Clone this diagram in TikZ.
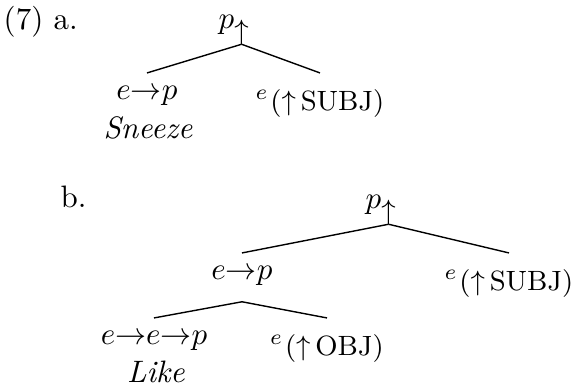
\documentclass[tikz,border=0pt]{standalone}
\newcommand{\flab}[2]{$\scriptstyle #1$\kern1pt\raisebox{-3.3pt}{\small$({\uparrow}\,\mathrm{#2})$}}
\newcommand{\rlab}[1]{$#1$\raisebox{-3.3pt}{\small$\uparrow$}}
\begin{document}
\begin{tikzpicture}[x=0.3226pt, y=-0.3226pt, every path/.style={line width=0.45pt}, tnode/.style={anchor=base, inner sep=0pt, text height=8.5pt, text depth=3.6pt}, rnode/.style={anchor=base west, inner sep=0pt, text depth=4.7pt}, word/.style={anchor=base, inner sep=0pt}]
			\useasboundingbox (0,0) rectangle (581,390);
			% (7a)
			\node[word, anchor=base west] (num) at (3,30) {(7)};
			\node[word, anchor=base west] (la) at (53,30) {a.};
			\node[rnode] (pa) at (218,29) {\rlab{p}};
			\node[tnode] (fa) at (147,100) {$e{\to}p$};
			\node[tnode] (sa) at (320,100) {\flab{e}{SUBJ}};
			\node[word] (sneeze) at (148,139) {\textit{Sneeze}};
			\draw ([xshift=-2.5pt]pa.south east) -- (fa.north);
			\draw ([xshift=-2.5pt]pa.south east) -- (sa.north);
			% (7b)
			\node[word, anchor=base west] (lb) at (60,208) {b.};
			\node[rnode] (pb) at (365,209) {\rlab{p}};
			\node[tnode, text depth=6.8pt] (fb) at (242,280) {$e{\to}p$};
			\node[tnode] (sb) at (509,280) {\flab{e}{SUBJ}};
			\node[tnode] (gb) at (154,345) {$e{\to}e{\to}p$};
			\node[tnode] (ob) at (327,345) {\flab{e}{OBJ}};
			\node[word] (like) at (156,383) {\textit{Like}};
			\draw ([xshift=-2.5pt]pb.south east) -- (fb.north);
			\draw ([xshift=-2.5pt]pb.south east) -- (sb.north);
			\draw (fb.south) -- (gb.north);
			\draw (fb.south) -- (ob.north);
		\end{tikzpicture}
\end{document}
